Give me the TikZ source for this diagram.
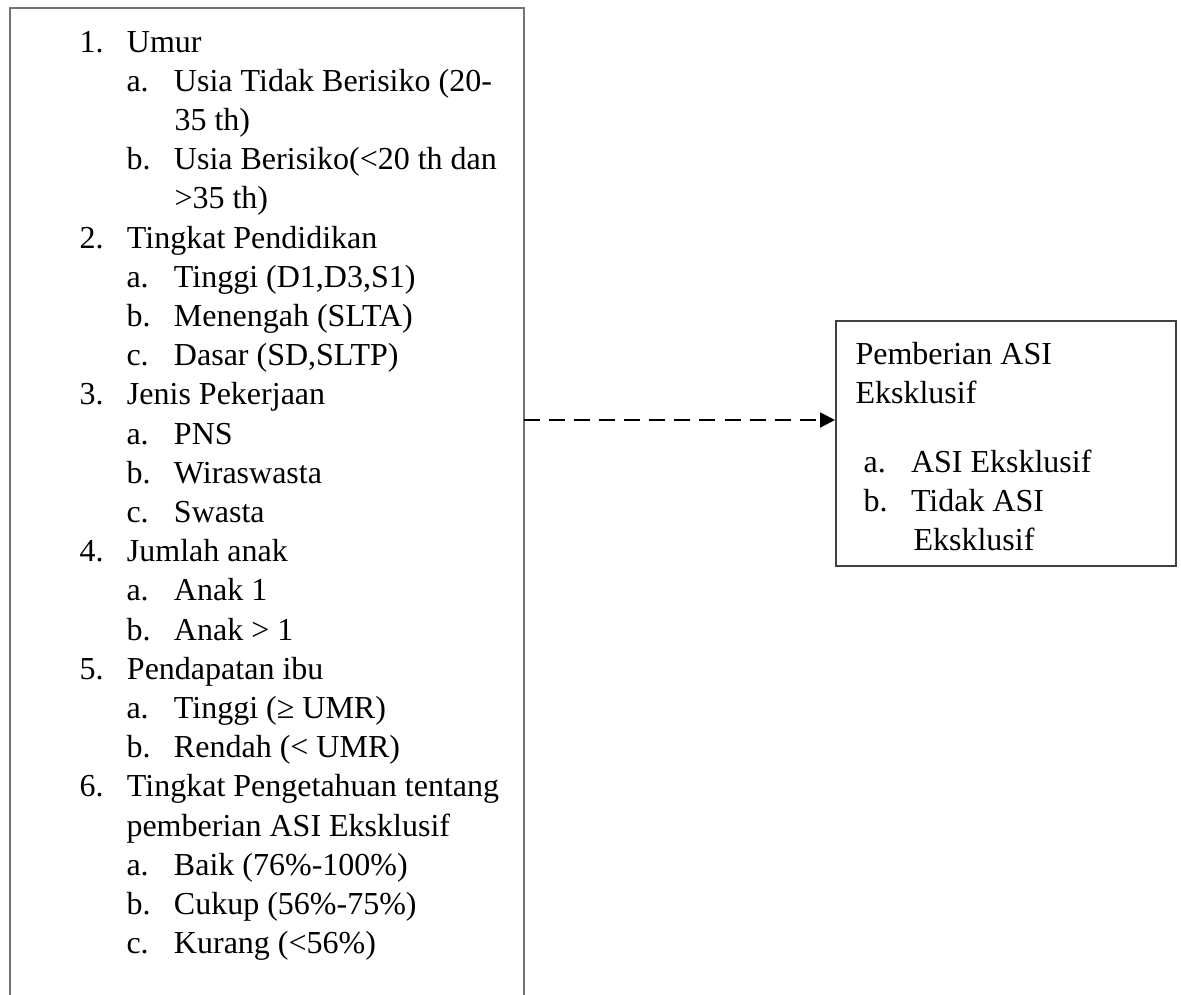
\documentclass[tikz,border=0pt]{standalone}
\usepackage{fontspec}
\setmainfont{Liberation Serif}
\usetikzlibrary{arrows.meta}
\newcommand{\butir}[1]{\makebox[17.8pt][l]{#1}}
\tikzset{
  txt/.style={anchor=base west, inner sep=0pt, font=\fontsize{12pt}{14pt}\selectfont},
  kotak/.style={draw=black!55, line width=0.7pt},
}
\begin{document}
\begin{tikzpicture}[x=0.375pt, y=-0.375pt]
\useasboundingbox (0,0) rectangle (1181,994);
\clip (0,0) rectangle (1181,994);
% left box, its bottom edge lies below the page
\coordinate (faktor-nw) at (10,8);
\coordinate (faktor-se) at (524,1100);
\coordinate (faktor-e) at (524,420);
\draw [kotak] (faktor-nw) rectangle (faktor-se);
\node [txt] (u1) at (79,52) {\butir{1.}Umur};
\node [txt] (u1a) at (126,91.2) {\butir{a.}Usia Tidak Berisiko (20-};
\node [txt] (u1a2) at (174,130.4) {35 th)};
\node [txt] (u1b) at (126,169.6) {\butir{b.}Usia Berisiko(<20 th dan};
\node [txt] (u1b2) at (174,208.8) {>35 th)};
\node [txt] (u2) at (79,248) {\butir{2.}Tingkat Pendidikan};
\node [txt] (u2a) at (126,287.2) {\butir{a.}Tinggi (D1,D3,S1)};
\node [txt] (u2b) at (126,326.4) {\butir{b.}Menengah (SLTA)};
\node [txt] (u2c) at (126,365.6) {\butir{c.}Dasar (SD,SLTP)};
\node [txt] (u3) at (79,404.8) {\butir{3.}Jenis Pekerjaan};
\node [txt] (u3a) at (126,444) {\butir{a.}PNS};
\node [txt] (u3b) at (126,483.2) {\butir{b.}Wiraswasta};
\node [txt] (u3c) at (126,522.4) {\butir{c.}Swasta};
\node [txt] (u4) at (79,561.6) {\butir{4.}Jumlah anak};
\node [txt] (u4a) at (126,600.8) {\butir{a.}Anak 1};
\node [txt] (u4b) at (126,640) {\butir{b.}Anak > 1};
\node [txt] (u5) at (79,679.2) {\butir{5.}Pendapatan ibu};
\node [txt] (u5a) at (126,718.4) {\butir{a.}Tinggi (≥ UMR)};
\node [txt] (u5b) at (126,757.6) {\butir{b.}Rendah (< UMR)};
\node [txt] (u6) at (79,796.8) {\butir{6.}Tingkat Pengetahuan tentang};
\node [txt] (u62) at (126,836) {pemberian ASI Eksklusif};
\node [txt] (u6a) at (126,875.2) {\butir{a.}Baik (76\%-100\%)};
\node [txt] (u6b) at (126,914.4) {\butir{b.}Cukup (56\%-75\%)};
\node [txt] (u6c) at (126,953.6) {\butir{c.}Kurang (<56\%)};
% right box
\node [kotak, draw=black!75, anchor=north west, inner sep=0pt,
       minimum width=127.5pt, minimum height=91.9pt] (asi) at (835,320) {};
\node [txt] (asi1) at (855,364) {Pemberian ASI};
\node [txt] (asi2) at (855,403) {Eksklusif};
\node [txt] (asia) at (863,472) {\butir{a.}ASI Eksklusif};
\node [txt] (asib) at (863,511) {\butir{b.}Tidak ASI};
\node [txt] (asib2) at (913,550) {Eksklusif};
% dashed connector
\draw [dashed, dash pattern=on 6pt off 3.4pt, line width=0.75pt,
       -{Triangle[length=5.6pt,width=5.6pt]}] (faktor-e) -- (faktor-e -| asi.west);
\end{tikzpicture}
\end{document}
